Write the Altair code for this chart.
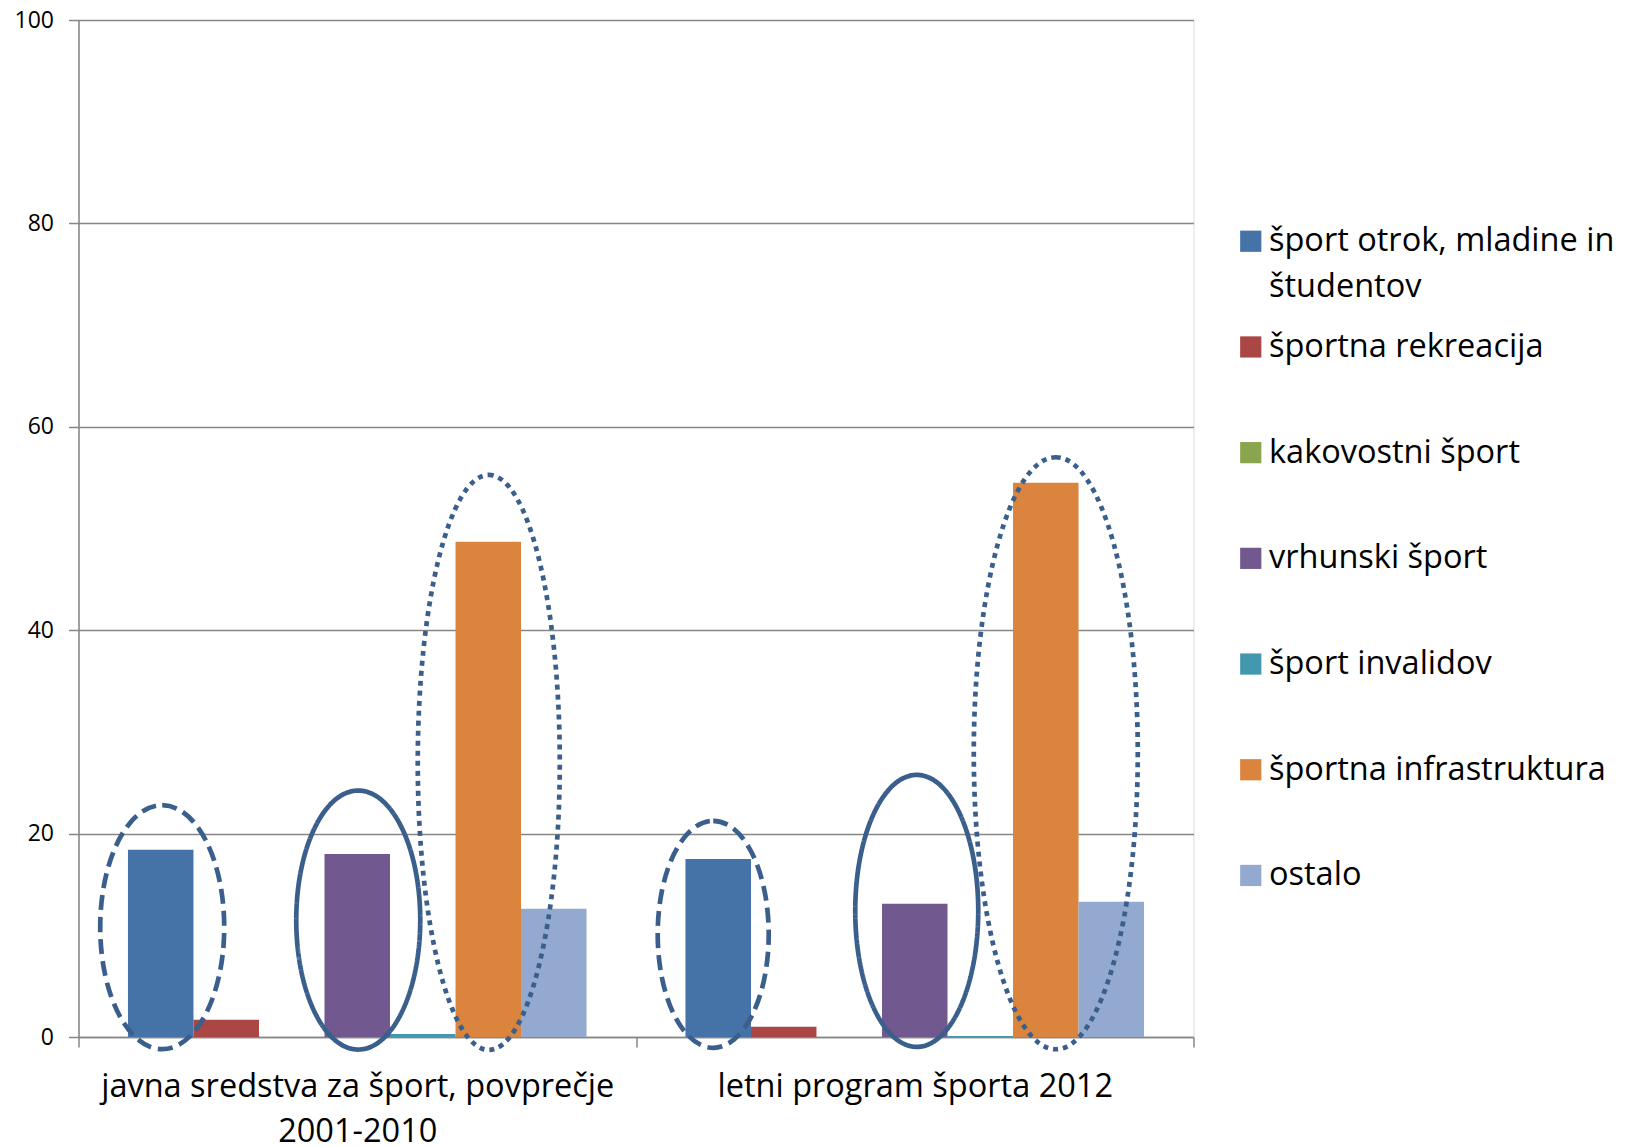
import altair as alt
import pandas as pd

groups = ["javna sredstva za šport, povprečje 2001-2010", "letni program športa 2012"]
series = ["šport otrok, mladine in študentov", "športna rekreacija", "kakovostni šport",
          "vrhunski šport", "šport invalidov", "športna infrastruktura", "ostalo"]
colors = ["#4572A7", "#AA4643", "#89A54E", "#71588F", "#4198AF", "#DB843D", "#93A9CF"]
values_g1 = [18.4, 1.7, 0.0, 18.0, 0.3, 48.7, 12.6]
values_g2 = [17.5, 1.0, 0.0, 13.1, 0.1, 54.5, 13.3]

rows = []
for g, vals in zip(groups, [values_g1, values_g2]):
    for s, v in zip(series, vals):
        rows.append({"group": g, "series": s, "value": v})
df = pd.DataFrame(rows)

# annotation ellipses: group, highlighted series, centre value, style
ell_group = [groups[0], groups[0], groups[0], groups[1], groups[1], groups[1]]
ell_series = [series[0], series[3], series[5], series[0], series[3], series[5]]
ell_center = [10.8, 11.5, 27.0, 10.1, 12.4, 27.9]
ell_w = [124, 124, 142, 111, 123, 164]
ell_h = [244, 259, 575, 227, 272, 592]
ell_dx = [1.5, 1, 0.5, -5, 2, 10]
ell_style = ["dashed", "solid", "dotted", "dashed", "solid", "dotted"]


def ellipse_path(ratio, shift):
    k = 0.5523
    r = ratio
    s = shift

    def p(x, y):
        return f"{x + s:.4f} {y:.4f}"
    return (f"M {p(0, -r)} C {p(k, -r)} {p(1, -k*r)} {p(1, 0)} "
            f"C {p(1, k*r)} {p(k, r)} {p(0, r)} "
            f"C {p(-k, r)} {p(-1, k*r)} {p(-1, 0)} "
            f"C {p(-1, -k*r)} {p(-k, -r)} {p(0, -r)} Z")


ell = pd.DataFrame({
    "group": ell_group, "series": ell_series, "value": ell_center,
    "style": ell_style,
    "path": [ellipse_path(h / w, 2 * d / w) for w, h, d in zip(ell_w, ell_h, ell_dx)],
    "size": [w * w for w in ell_w],
})

W, H = 1115, 1017
FONT = "Open Sans"
GREY = "#868686"

x_enc = alt.X("group:N", sort=groups, title=None,
              scale=alt.Scale(paddingInner=0, paddingOuter=0),
              axis=alt.Axis(labelAngle=0, labelFontSize=32.5, labelFont=FONT, labelColor="#000000",
                            labelExpr="datum.label == 'javna sredstva za šport, povprečje 2001-2010' ? ['javna sredstva za šport, povprečje', '2001-2010'] : datum.label",
                            labelLineHeight=45, labelPadding=23, labelBaseline="top",
                            tickBand="extent", tickSize=10, tickColor=GREY, tickWidth=1.5,
                            domainColor=GREY, domainWidth=1.5, grid=False, labelLimit=900))
xoff = alt.XOffset("series:N", sort=series, scale=alt.Scale(paddingInner=0, paddingOuter=0.755))

bars = alt.Chart(df).mark_bar().encode(
    x=x_enc,
    xOffset=xoff,
    y=alt.Y("value:Q", title=None,
            scale=alt.Scale(domain=[0, 100], nice=False),
            axis=alt.Axis(values=[0, 20, 40, 60, 80, 100], labelFontSize=23, labelFont=FONT,
                          labelColor="#000000", labelPadding=15, tickSize=10, tickColor=GREY,
                          tickWidth=1.5, domainColor=GREY, domainWidth=1.5,
                          gridColor=GREY, gridWidth=1.5)),
    color=alt.Color("series:N", sort=series, scale=alt.Scale(domain=series, range=colors),
                    legend=alt.Legend(title=None, orient="none", legendX=1156, legendY=205,
                                      symbolType="square", symbolSize=450, symbolStrokeWidth=0,
                                      labelFontSize=32.5, labelFont=FONT, labelColor="#000000",
                                      labelLimit=700, rowPadding=26.7, labelOffset=2,
                                      gridAlign="all",
                                      labelExpr="datum.label == 'šport otrok, mladine in študentov' ? ['šport otrok, mladine in', 'študentov'] : datum.label")),
)

layers = [bars]
dash_map = {"dashed": [15, 7], "solid": [1, 0], "dotted": [5, 5]}
for st in ["dashed", "solid", "dotted"]:
    layers.append(
        alt.Chart(ell[ell["style"] == st]).mark_point(
            filled=False, stroke="#3A5F8C", strokeWidth=4.7, strokeDash=dash_map[st], opacity=1
        ).encode(
            x=alt.X("group:N", sort=groups),
            xOffset=alt.XOffset("series:N", sort=series),
            y="value:Q",
            shape=alt.Shape("path:N", scale=None),
            size=alt.Size("size:Q", scale=None),
        )
    )

chart = alt.layer(*layers).properties(
    width=W, height=H,
    autosize=alt.AutoSizeParams(type="none"),
    padding={"left": 70.5, "top": 12, "right": 428, "bottom": 110},
).configure_view(stroke=None).configure(
    background="white",
    style={"guide-label": {"lineHeight": 46}},
)

chart.save("out.html", embed_options={"renderer": "svg", "actions": False})
